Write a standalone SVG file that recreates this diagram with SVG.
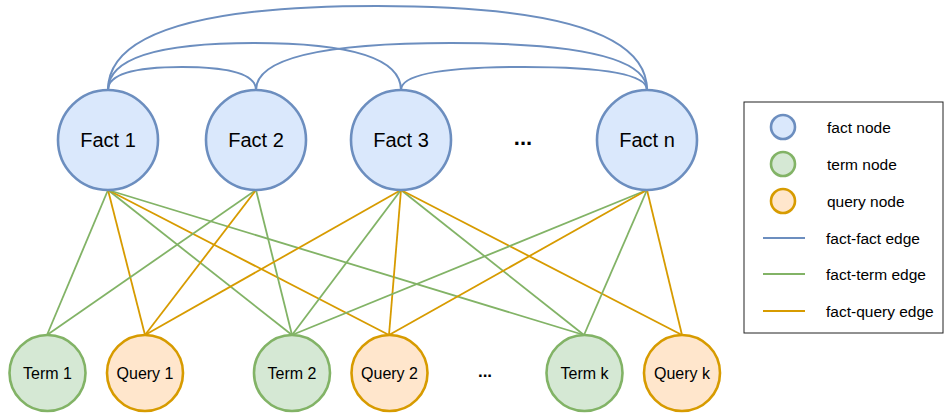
<svg xmlns="http://www.w3.org/2000/svg" width="945" height="415" viewBox="0 0 945 415">
<style>
.fact{fill:#dae8fc;stroke:#6c8ebf;stroke-width:2.6}
.term{fill:#d5e8d4;stroke:#82b366;stroke-width:2.6}
.query{fill:#ffe6cc;stroke:#d79b00;stroke-width:2.6}
.ff{fill:none;stroke:#6c8ebf;stroke-width:2}
.ft{fill:none;stroke:#82b366;stroke-width:1.8}
.fq{fill:none;stroke:#d79b00;stroke-width:1.8}
text{font-family:"Liberation Sans",Arial,sans-serif;fill:#000}
.big{font-size:20px;text-anchor:middle;dominant-baseline:central}
.small{font-size:16px;text-anchor:middle;dominant-baseline:central}
.dots{font-weight:bold;text-anchor:middle;dominant-baseline:central}
.leg{font-size:15.5px;dominant-baseline:central}
</style>
<rect width="945" height="415" fill="#fff"/>
<g id="connectors">
<path class="ff" d="M108 90 Q108 6 377 6 Q647 6 647 90"/>
<path class="ff" d="M108 90 Q108 43 254 43 Q401 43 401 90"/>
<path class="ff" d="M256 90 Q256 43 451 43 Q647 43 647 90"/>
<path class="ff" d="M108 90 Q108 67 182 67 Q256 67 256 90"/>
<path class="ff" d="M401 90 Q401 67 524 67 Q647 67 647 90"/>
<line class="ft" x1="108" y1="190" x2="47" y2="335"/>
<line class="fq" x1="108" y1="190" x2="145" y2="335"/>
<line class="ft" x1="108" y1="190" x2="292" y2="335"/>
<line class="fq" x1="108" y1="190" x2="389" y2="335"/>
<line class="ft" x1="108" y1="190" x2="584" y2="335"/>
<line class="ft" x1="256" y1="190" x2="47" y2="335"/>
<line class="fq" x1="256" y1="190" x2="145" y2="335"/>
<line class="ft" x1="256" y1="190" x2="292" y2="335"/>
<line class="fq" x1="401" y1="190" x2="145" y2="335"/>
<line class="ft" x1="401" y1="190" x2="292" y2="335"/>
<line class="fq" x1="401" y1="190" x2="389" y2="335"/>
<line class="ft" x1="401" y1="190" x2="584" y2="335"/>
<line class="fq" x1="401" y1="190" x2="682" y2="335"/>
<line class="ft" x1="647" y1="190" x2="292" y2="335"/>
<line class="fq" x1="647" y1="190" x2="389" y2="335"/>
<line class="ft" x1="647" y1="190" x2="584" y2="335"/>
<line class="fq" x1="647" y1="190" x2="682" y2="335"/>
</g>
<g id="fact1"><ellipse class="fact" cx="108" cy="140" rx="50" ry="50"/><text class="big" x="108" y="140">Fact 1</text></g>
<g id="fact2"><ellipse class="fact" cx="256" cy="140" rx="50" ry="50"/><text class="big" x="256" y="140">Fact 2</text></g>
<g id="fact3"><ellipse class="fact" cx="401" cy="140" rx="50" ry="50"/><text class="big" x="401" y="140">Fact 3</text></g>
<g id="factdots"><text class="dots" x="523" y="137" font-size="22">...</text></g>
<g id="factn"><ellipse class="fact" cx="647" cy="140" rx="50" ry="50"/><text class="big" x="647" y="140">Fact n</text></g>
<g id="term1"><ellipse class="term" cx="47.5" cy="373" rx="38" ry="38"/><text class="small" x="47.5" y="373">Term 1</text></g>
<g id="query1"><ellipse class="query" cx="145" cy="373" rx="38" ry="38"/><text class="small" x="145" y="373">Query 1</text></g>
<g id="term2"><ellipse class="term" cx="292" cy="373" rx="38" ry="38"/><text class="small" x="292" y="373">Term 2</text></g>
<g id="query2"><ellipse class="query" cx="389.5" cy="373" rx="38" ry="38"/><text class="small" x="389.5" y="373">Query 2</text></g>
<g id="bottomdots"><text class="dots" x="485" y="371" font-size="17">...</text></g>
<g id="termk"><ellipse class="term" cx="584.5" cy="373" rx="38" ry="38"/><text class="small" x="584.5" y="373">Term k</text></g>
<g id="queryk"><ellipse class="query" cx="682" cy="373" rx="38" ry="38"/><text class="small" x="682" y="373">Query k</text></g>
<g id="legend">
<rect x="744" y="102" width="199" height="231" fill="#fff" stroke="#222" stroke-width="1"/>
<circle class="fact" cx="783" cy="127" r="12" stroke-width="2"/>
<circle class="term" cx="783" cy="164" r="12" stroke-width="2"/>
<circle class="query" cx="783" cy="201" r="12" stroke-width="2"/>
<line class="ff" x1="763" y1="238" x2="805" y2="238"/>
<line class="ft" x1="763" y1="274" x2="805" y2="274"/>
<line class="fq" x1="763" y1="311" x2="805" y2="311"/>
<text class="leg" x="827" y="127">fact node</text>
<text class="leg" x="827" y="164">term node</text>
<text class="leg" x="827" y="201">query node</text>
<text class="leg" x="826" y="238">fact-fact edge</text>
<text class="leg" x="826" y="274">fact-term edge</text>
<text class="leg" x="826" y="311">fact-query edge</text>
</g>
</svg>
